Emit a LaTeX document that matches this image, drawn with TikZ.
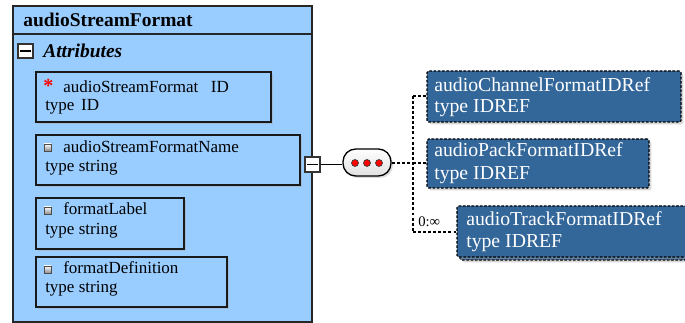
\documentclass[tikz,border=0pt]{standalone}
\usepackage{fontspec}
\setmainfont{Liberation Serif}
\usetikzlibrary{fit,shadows}
\definecolor{lightblue}{HTML}{99CCFF}
\definecolor{darkblue}{HTML}{336699}
\tikzset{
 shad/.style={drop shadow={shadow xshift=1.8pt,shadow yshift=-1.8pt,fill=black!35,opacity=0.45}},
 mainbox/.style={draw=black!85, line width=1pt, fill=lightblue, inner sep=0pt},
 attrbox/.style={draw=black!90, line width=0.9pt, fill=lightblue, inner sep=0pt, shad},
 refbox/.style={draw=black, line width=0.9pt, dash pattern=on 2pt off 1.2pt, fill=darkblue, inner sep=0pt, rounded corners=1.2pt, shad},
 txt/.style={anchor=base west, inner sep=0pt, font=\fontsize{12.75}{15}\selectfont},
 reftxt/.style={anchor=base west, inner sep=0pt, text=white, font=\fontsize{14.8}{17}\selectfont},
 conn/.style={line width=0.8pt, dash pattern=on 2.2pt off 1.6pt},
 icon/.style={draw=black!70, line width=0.5pt, inner sep=0pt, top color=white, bottom color=black!45},
 minusbox/.style={draw=black!80, line width=0.9pt, fill=white, inner sep=0pt},
 dot/.style={circle, draw=black!80, line width=0.5pt, fill=red, inner sep=0pt, minimum size=5.2pt},
}
\begin{document}
\begin{tikzpicture}[x=0.75pt,y=-0.75pt]
\useasboundingbox (0,0) rectangle (685,323);
\clip (0,0) rectangle (685,323);
% main element box
\node[mainbox, fit={(13,6) (312,322)}] (main) {};
\draw[black!85, line width=1pt] (main.west |- 0,34) coordinate (hl) -- (main.east |- 0,34) coordinate (hr);
\node[anchor=base west, inner sep=0pt, font=\fontsize{14.6}{17}\selectfont\bfseries] (title) at (23,27) {audioStreamFormat};
% Attributes heading
\node[minusbox, line width=0.8pt, fit={(18,44) (33,58)}] (amin) {};
\draw[line width=0.9pt] ([xshift=2.2pt]amin.west) -- ([xshift=-2.2pt]amin.east);
\node[anchor=base west, inner sep=0pt, font=\fontsize{14.6}{17}\selectfont\bfseries\itshape] (attr) at (43,58) {Attributes};
% attribute boxes
\node[attrbox, fit={(36,72) (271,122)}] (a1) {};
\node[anchor=base west, inner sep=0pt, text=red, font=\fontsize{15}{15}\selectfont\bfseries] (star) at (43,93) {*};
\node[txt] (a1l1) at (63,93) {audioStreamFormat\hspace{9.5pt}ID};
\node[txt] (a1l2) at (45,111) {type\hspace{5pt}ID};

\node[attrbox, fit={(36,135) (300,185)}] (a2) {};
\node[icon, fit={(44,144) (51,151)}] (i2) {};
\node[txt] (a2l1) at (63,153) {audioStreamFormatName};
\node[txt] (a2l2) at (45,172) {type string};

\node[attrbox, fit={(36,198) (184,249)}] (a3) {};
\node[icon, fit={(44,207) (51,214)}] (i3) {};
\node[txt] (a3l1) at (63,215) {formatLabel};
\node[txt] (a3l2) at (45,235) {type string};

\node[attrbox, fit={(36,257) (227,307)}] (a4) {};
\node[icon, fit={(44,266) (51,273)}] (i4) {};
\node[txt] (a4l1) at (63,274) {formatDefinition};
\node[txt] (a4l2) at (45,293) {type string};

% collapse box and sequence
\node[minusbox, fit={(305,157) (320,172)}] (cmin) {};
\draw[line width=0.9pt] ([xshift=2.2pt]cmin.west) -- ([xshift=-2.2pt]cmin.east);
\node[draw=black, line width=1pt, inner sep=0pt, rounded corners=9.5pt, top color=white, bottom color=black!12, drop shadow={shadow xshift=1.5pt,shadow yshift=-1.5pt,fill=black!35,opacity=0.4}, fit={(343,149) (391,176)}] (seq) {};
\node[dot] (d1) at (355,163) {};
\node[dot] (d2) at (367,163) {};
\node[dot] (d3) at (379,163) {};
\draw[line width=0.9pt] (cmin.east) -- (seq.west |- cmin.east);

% reference boxes
\node[refbox, fit={(427,71) (681,122)}] (r1) {};
\node[reftxt] (r1l1) at (434,92) {audioChannelFormatIDRef};
\node[reftxt] (r1l2) at (434,113) {type IDREF};

\node[refbox, fit={(427,139) (649,188)}] (r2) {};
\node[reftxt] (r2l1) at (434,157) {audioPackFormatIDRef};
\node[reftxt] (r2l2) at (434,180) {type IDREF};

\node[refbox, fit={(460,209) (692,260)}] (r3b) {};
\node[refbox, fit={(457,206) (689,257)}] (r3) {};
\node[reftxt] (r3l1) at (466,226) {audioTrackFormatIDRef};
\node[reftxt] (r3l2) at (466,248) {type IDREF};

% connectors
\coordinate (jm) at (413,163);
\coordinate (jt) at (413,96);
\coordinate (jb) at (413,232);
\draw[conn] (seq.east |- jm) -- (jm);
\draw[conn] (jt) -- (jb);
\draw[conn] (jt) -- (r1.west |- jt);
\draw[conn] (jm) -- (r2.west |- jm);
\draw[conn] (jb) -- (r3.west |- jb);
\node[anchor=base west, inner sep=0pt, font=\fontsize{11}{12}\selectfont] (mult) at (418,227) {0:∞};
\end{tikzpicture}
\end{document}
